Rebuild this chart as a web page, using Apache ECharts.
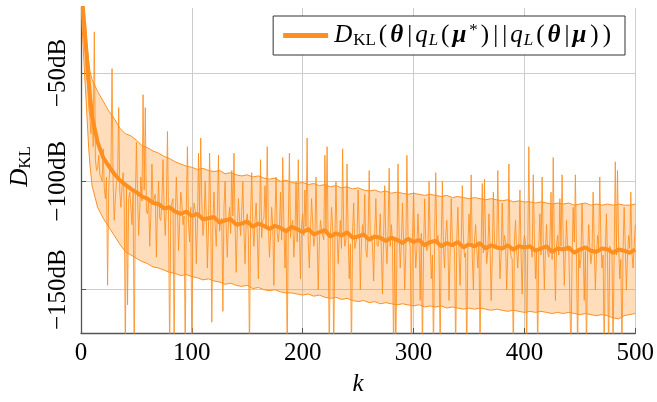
<!DOCTYPE html>
<html><head><meta charset="utf-8">
<script src="https://cdn.jsdelivr.net/npm/echarts@6/dist/echarts.min.js"></script>
<style>html,body{margin:0;padding:0;background:#fff}#c{width:657px;height:402px}</style>
</head><body><div id="c"></div>
<script>
// sample positions k for the statistics (mean / bounds)
const kMain = [0,1,2,3,4,5,6,7,8,9,10,
  15,20,25,30,35,40,45,50,55,60,65,70,75,80,85,90,95,100,
  105,110,115,120,125,130,135,140,145,150,155,160,165,170,175,180,185,190,195,200,
  205,210,215,220,225,230,235,240,245,250,255,260,265,270,275,280,285,290,295,300,
  305,310,315,320,325,330,335,340,345,350,355,360,365,370,375,380,385,390,395,400,
  405,410,415,420,425,430,435,440,445,450,455,460,465,470,475,480,485,490,495,500];

const meanDB = [-10,-15,-22,-28,-35,-41,-48,-54,-60,-65,-70,
  -82,-89,-93,-96.5,-99.5,-101.5,-103.5,-105,-107,-108,-110,-110.5,-112.5,-112,-114,-115,-114,-116,
  -115,-117.5,-117,-116.5,-119,-118,-117.5,-120,-119.5,-118.5,-121,-119.5,-120.5,-122,-120.5,-121.5,-123,-121,-122,-123.5,
  -122,-124.5,-123.5,-122.5,-125.5,-124,-125,-123.5,-126,-125.5,-124.5,-127,-125.5,-126,-127.5,-126,-127,-128.5,-126.5,-128,
  -127,-129.5,-128,-127.5,-130,-128.5,-129.5,-128,-130.5,-129,-130,-128.5,-131,-129.5,-130.5,-131,-129.5,-131.5,-130,-130.5,
  -130,-132,-131,-130,-132.5,-131,-131.5,-130.5,-133,-131.5,-130.5,-132,-132.5,-131,-131.5,-133,-131.5,-132,-133,-131.5];

const upperDB = [-5,-10,-16,-22,-28,-34,-40,-45,-49,-51,-53,
  -58.5,-63,-67.5,-71,-75.5,-78,-79,-81,-83.5,-84.5,-86,-87,-88.5,-89.5,-91,-92,-93,-93.5,
  -94.5,-94,-95,-95.5,-95,-96.5,-96,-97,-97.5,-97,-98,-97.5,-98.5,-99,-98.5,-100,-99.5,-100.5,-101,-100.5,
  -101.5,-101,-102,-101.5,-102.5,-102,-103,-102.5,-103.5,-103,-104,-104.5,-104,-105,-104.5,-105.5,-105,-105.5,-106,-105.5,
  -106,-106.5,-106,-106.5,-107,-106.5,-107.5,-107,-107.5,-108,-107.5,-108,-108.5,-108,-108.5,-109,-108.5,-109.5,-109,-109.5,
  -109.5,-110,-109.5,-110,-110.5,-110,-110.5,-110,-111,-110.5,-110,-111,-110.5,-111,-110.5,-111,-110.5,-111,-111,-110.5];

const lowerDB = [-15,-28,-38,-48,-57,-66,-76,-85,-92,-97,-102,
  -112,-117,-121,-125,-129,-132.5,-134,-135.5,-137,-138,-139.5,-140,-141,-142,-142.5,-143.5,-143,-144,
  -144.5,-145.5,-145,-146,-146.5,-147.5,-147,-148,-148.5,-148,-149.5,-149,-150,-150.5,-150,-151,-151.5,-151.5,-152,-152.5,
  -152,-153,-152.5,-153.5,-154,-153.5,-154.5,-154,-155,-155.5,-155,-156,-155.5,-156.5,-156,-156.5,-157,-156.5,-157,-157.5,
  -157,-158,-157.5,-158,-157.5,-158.5,-158,-158.5,-159,-158.5,-159,-158.5,-159,-159.5,-159,-159.5,-160,-159.5,-160,-160.5,
  -160,-160.5,-160,-160.5,-161,-160.5,-161,-160.5,-161,-161.5,-161,-161.5,-162,-161.5,-162,-163,-163.5,-162,-161.5,-161];

// single realisation: values at even k (0..500) and odd k (1..499)
const sampleEvenDB = [
  -12,-22,-40,-55,-70,-64,-31,-95,-88,-98,
  -85,-108,-148,-92,-48,-118,-100,-66,-112,-96,
  -180,-157,-105,-120,-185,-82,-125,-98,-60,-66,
  -115,-130,-92,-110,-135,-100,-118,-90,-125,-77,
  -180,-112,-180,-98,-132,-105,-120,-180,-84,-128,
  -180,-110,-138,-87,-80,-125,-100,-140,-87,-165,
  -105,-130,-88,-118,-160,-100,-135,-112,-95,-87,
  -142,-108,-125,-100,-138,-115,-180,-96,-130,-110,
  -145,-90,-118,-102,-84,-135,-112,-148,-98,-128,
  -105,-89,-140,-180,-87,-120,-135,-100,-90,-145,
  -115,-104,-80,-140,-108,-130,-98,-150,-118,-125,
  -88,-84,-180,-112,-180,-100,-138,-118,-85,-130,
  -92,-145,-180,-110,-128,-104,-150,-120,-106,-135,
  -95,-125,-146,-108,-130,-115,-152,-102,-138,-94,
  -120,-180,-180,-92,-140,-110,-150,-88,-125,-180,
  -105,-140,-115,-155,-180,-108,-132,-100,-145,-180,
  -96,-125,-180,-100,-140,-118,-155,-108,-130,-180,
  -112,-148,-102,-135,-180,-115,-97,-150,-120,-140,
  -180,-101,-99,-138,-115,-155,-105,-130,-95,-145,
  -110,-125,-150,-92,-135,-180,-118,-140,-104,-152,
  -125,-180,-84,-130,-97,-145,-180,-115,-98,-150,
  -120,-135,-105,-89,-155,-125,-108,-97,-148,-118,
  -130,-180,-112,-97,-180,-140,-110,-155,-180,-120,
  -138,-105,-150,-125,-98,-140,-180,-115,-180,-130,
  -180,-91,-95,-145,-180,-112,-150,-125,-105,-140,-120];
const sampleOddDB = [
  -18,-35,-52,-66,-78,-84,-90,-94,-97,-100,
  -103,-98,-104,-95,-101,-108,-99,-105,-103,-110,
  -102,-108,-112,-104,-110,-106,-113,-109,-104,-114,
  -108,-116,-110,-106,-113,-117,-109,-114,-111,-118,
  -112,-108,-117,-113,-119,-110,-116,-114,-120,-112,
  -118,-113,-121,-115,-110,-119,-116,-122,-114,-118,
  -120,-115,-123,-117,-112,-121,-118,-124,-116,-120,
  -122,-117,-114,-123,-119,-125,-116,-121,-118,-124,
  -120,-126,-117,-122,-119,-125,-121,-116,-124,-122,
  -127,-119,-123,-121,-126,-118,-124,-128,-122,-120,
  -125,-121,-128,-123,-119,-126,-124,-129,-122,-127,
  -123,-130,-125,-121,-128,-124,-126,-131,-122,-127,
  -125,-129,-123,-131,-126,-122,-128,-125,-132,-124,
  -127,-130,-124,-129,-126,-133,-125,-128,-123,-130,
  -128,-126,-132,-124,-129,-127,-133,-125,-130,-128,
  -126,-131,-129,-124,-133,-127,-130,-128,-134,-126,
  -129,-132,-127,-131,-125,-130,-134,-128,-131,-127,
  -132,-129,-126,-133,-130,-128,-135,-127,-131,-129,
  -130,-133,-127,-132,-129,-135,-128,-131,-126,-134,
  -131,-128,-133,-130,-136,-127,-132,-129,-134,-130,
  -128,-133,-131,-135,-127,-132,-130,-134,-129,-131,
  -133,-128,-136,-131,-129,-134,-130,-127,-133,-132,
  -130,-135,-128,-133,-131,-136,-129,-132,-134,-130,
  -133,-129,-135,-131,-128,-134,-132,-136,-130,-133,
  -131,-134,-129,-136,-132,-130,-135,-131,-133,-130];

const xTicks = [0,100,200,300,400,500];
const yTicks = [-150,-100,-50];

const ORANGE = '#ff8f1f';
const FONT = 'Liberation Serif';
const pairs = (ks, vs) => ks.map((k, i) => [k, vs[i]]);
// merge even/odd samples into one ordered list of [k, value]
const samplePairs = [];
sampleEvenDB.forEach((v, i) => {
  samplePairs.push([2 * i, v]);
  if (i < sampleOddDB.length) samplePairs.push([2 * i + 1, sampleOddDB[i]]);
});

const chart = echarts.init(document.getElementById('c'));
const legendText = '{i|D}{sub|KL}{n|(}{bi|θ}{bar||}{i|q}{subi|L}{n|(}{bi|μ}{sup|*}{n|)}{bar||}{bar||}{i|q}{subi|L}{n|(}{bi|θ}{bar||}{bi|μ}{n|)}{n|)}';

chart.setOption({
  animation: false,
  grid: {left: 78, right: 21, top: 8, bottom: 68},
  xAxis: {
    type: 'value', min: 0, max: 500, interval: 100,
    axisLine: {lineStyle: {color: '#555', width: 1.3}},
    axisTick: {inside: true, length: 5, lineStyle: {color: '#555'}},
    splitLine: {show: true, lineStyle: {color: '#cccccc', width: 1}},
    axisLabel: {fontFamily: FONT, fontSize: 25, color: '#000', margin: 8,
      customValues: xTicks},
    name: 'k', nameLocation: 'middle', nameGap: 39,
    nameTextStyle: {fontFamily: FONT, fontStyle: 'italic', fontSize: 25, color: '#000'}
  },
  yAxis: {
    type: 'value', min: -170, max: -20,
    axisLine: {show: true, lineStyle: {color: '#555', width: 1.3}},
    axisTick: {show: true, inside: true, length: 5, lineStyle: {color: '#555'}, customValues: yTicks},
    splitLine: {show: true, lineStyle: {color: '#cccccc', width: 1}},
    axisLabel: {customValues: yTicks, rotate: 90, fontFamily: FONT, fontSize: 25, color: '#000', margin: 10,
      formatter: v => (v < 0 ? '\u2212' : '') + Math.abs(v) + 'dB'},
    name: '{i|D}{s|KL}', nameLocation: 'middle', nameGap: 47, nameRotate: 90,
    nameTextStyle: {fontFamily: FONT, fontSize: 25, color: '#000', padding: [0, 0, 0, 8],
      rich: {
        i: {fontFamily: FONT, fontStyle: 'italic', fontSize: 25, color: '#000'},
        s: {fontFamily: FONT, fontSize: 17, color: '#000', padding: [10, 0, 0, 0]}
      }}
  },
  legend: {
    data: ['mean'], right: 32, top: 16, icon: 'rect', itemWidth: 45, itemHeight: 5, itemGap: 8,
    padding: [6, 14, 6, 10], borderColor: '#333', borderWidth: 1, backgroundColor: '#fff',
    formatter: () => legendText,
    textStyle: {fontFamily: FONT, fontSize: 25, color: '#000',
      rich: {
        i: {fontFamily: FONT, fontStyle: 'italic', fontSize: 25, color: '#000', padding: [0, 1, 0, 1]},
        n: {fontFamily: FONT, fontSize: 25, color: '#000', padding: [0, 2, 0, 2]},
        bar: {fontFamily: FONT, fontSize: 25, color: '#000', padding: [0, 2, 0, 2]},
        bi: {fontFamily: FONT, fontStyle: 'italic', fontWeight: 'bold', fontSize: 25, color: '#000', padding: [0, 2, 0, 1]},
        sub: {fontFamily: FONT, fontSize: 17, color: '#000', padding: [10, 1, 0, 0]},
        subi: {fontFamily: FONT, fontStyle: 'italic', fontSize: 17, color: '#000', padding: [10, 1, 0, 0]},
        sup: {fontFamily: FONT, fontSize: 17, color: '#000', padding: [0, 1, 10, 1]}
      }}
  },
  series: [
    {name: 'band', type: 'custom', clip: true, silent: true, z: 1,
      data: [[kMain[0], upperDB[0]]],
      renderItem: (params, api) => {
        const pts = [];
        for (let i = 0; i < kMain.length; i++) pts.push(api.coord([kMain[i], upperDB[i]]));
        for (let i = kMain.length - 1; i >= 0; i--) pts.push(api.coord([kMain[i], lowerDB[i]]));
        return {type: 'polygon', shape: {points: pts}, style: {fill: 'rgba(255,143,31,0.30)'}};
      }},
    {name: 'upper', type: 'line', data: pairs(kMain, upperDB), symbol: 'none',
      lineStyle: {color: ORANGE, width: 1}, z: 2},
    {name: 'lower', type: 'line', data: pairs(kMain, lowerDB), symbol: 'none',
      lineStyle: {color: ORANGE, width: 1}, z: 2},
    {name: 'sample', type: 'line', data: samplePairs, symbol: 'none',
      lineStyle: {color: ORANGE, width: 1, opacity: 0.85}, z: 3},
    {name: 'mean', type: 'line', data: pairs(kMain, meanDB), symbol: 'none', color: ORANGE,
      lineStyle: {color: ORANGE, width: 4}, z: 4}
  ]
});
</script></body></html>
